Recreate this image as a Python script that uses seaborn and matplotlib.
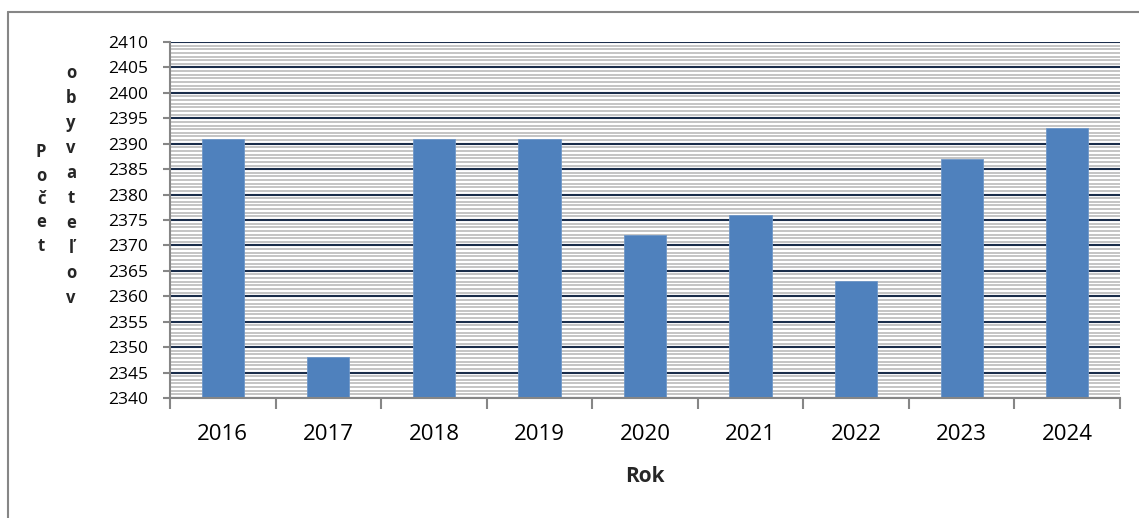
import matplotlib
matplotlib.use("Agg")
import matplotlib.pyplot as plt
from matplotlib.ticker import MultipleLocator, FixedLocator, NullFormatter
from matplotlib.lines import Line2D
import seaborn as sns
import pandas as pd

years = ["2016", "2017", "2018", "2019", "2020", "2021", "2022", "2023", "2024"]
population = [2391, 2348, 2391, 2391, 2372, 2376, 2363, 2387, 2393]
y_label_col1 = "Počet"
y_label_col2 = "obyvateľov"
x_label = "Rok"

df = pd.DataFrame({"Rok": years, "Pocet": population})

sns.set_theme(style="white")
plt.rcParams["font.family"] = ["Open Sans", "DejaVu Sans"]

fig = plt.figure(figsize=(11.39, 5.18), dpi=100)
ax = fig.add_axes([170 / 1139, 1 - 398 / 518, 950 / 1139, 356 / 518])

bar_color = "#4F81BD"
sns.barplot(data=df, x="Rok", y="Pocet", color=bar_color, width=0.4,
            saturation=1, ax=ax, zorder=3, edgecolor="#6E97C8", linewidth=0.6)

ax.set_ylim(2340, 2410)
ax.set_xlim(-0.5, len(years) - 0.5)

# y ticks / grid
ax.yaxis.set_major_locator(MultipleLocator(5))
ax.yaxis.set_minor_locator(MultipleLocator(5 / 7))
ax.grid(which="minor", axis="y", color="#BFBFBF", linewidth=1.3, zorder=1)
ax.grid(which="major", axis="y", color="#1B2E4B", linewidth=1.5, zorder=2)
ax.set_axisbelow(True)

# x ticks at category boundaries, labels at centers
ax.xaxis.set_major_locator(FixedLocator([i - 0.5 for i in range(len(years) + 1)]))
ax.xaxis.set_major_formatter(NullFormatter())
ax.xaxis.set_minor_locator(FixedLocator(list(range(len(years)))))
ax.set_xticklabels(years, minor=True)

ax.tick_params(axis="x", which="major", length=8, width=1.5, color="#868686", direction="out", bottom=True)
ax.tick_params(axis="x", which="minor", length=0, pad=19, labelsize=16, labelcolor="black")
ax.tick_params(axis="y", which="major", length=5, width=1.5, color="#868686", direction="out",
               left=True, pad=11, labelsize=12.5, labelcolor="black")
ax.tick_params(axis="y", which="minor", length=0)

for s in ["top", "right"]:
    ax.spines[s].set_visible(False)
for s in ["left", "bottom"]:
    ax.spines[s].set_visible(True)
    ax.spines[s].set_color("#868686")
    ax.spines[s].set_linewidth(1.5)
    ax.spines[s].set_zorder(4)

ax.set_xlabel("")
ax.set_ylabel("")
fig.text(645 / 1139, 1 - 476 / 518, x_label, ha="center", va="center",
         fontsize=15, fontweight="bold")

# stacked vertical y label in two columns
fig.text(41 / 1139, 1 - 199 / 518, "\n".join(y_label_col1), ha="center", va="center",
         fontsize=12, fontweight="bold", linespacing=1.38)
fig.text(71 / 1139, 1 - 185 / 518, "\n".join(y_label_col2), ha="center", va="center",
         fontsize=12, fontweight="bold", linespacing=1.50)

# chart area border
fig.add_artist(Line2D([7.5 / 1139, 7.5 / 1139], [0, 1 - 12 / 518], transform=fig.transFigure,
                      color="#868686", linewidth=1.5))
fig.add_artist(Line2D([7.5 / 1139, 1], [1 - 12 / 518, 1 - 12 / 518], transform=fig.transFigure,
                      color="#868686", linewidth=1.5))

fig.savefig("out.png", dpi=100, facecolor="white")
